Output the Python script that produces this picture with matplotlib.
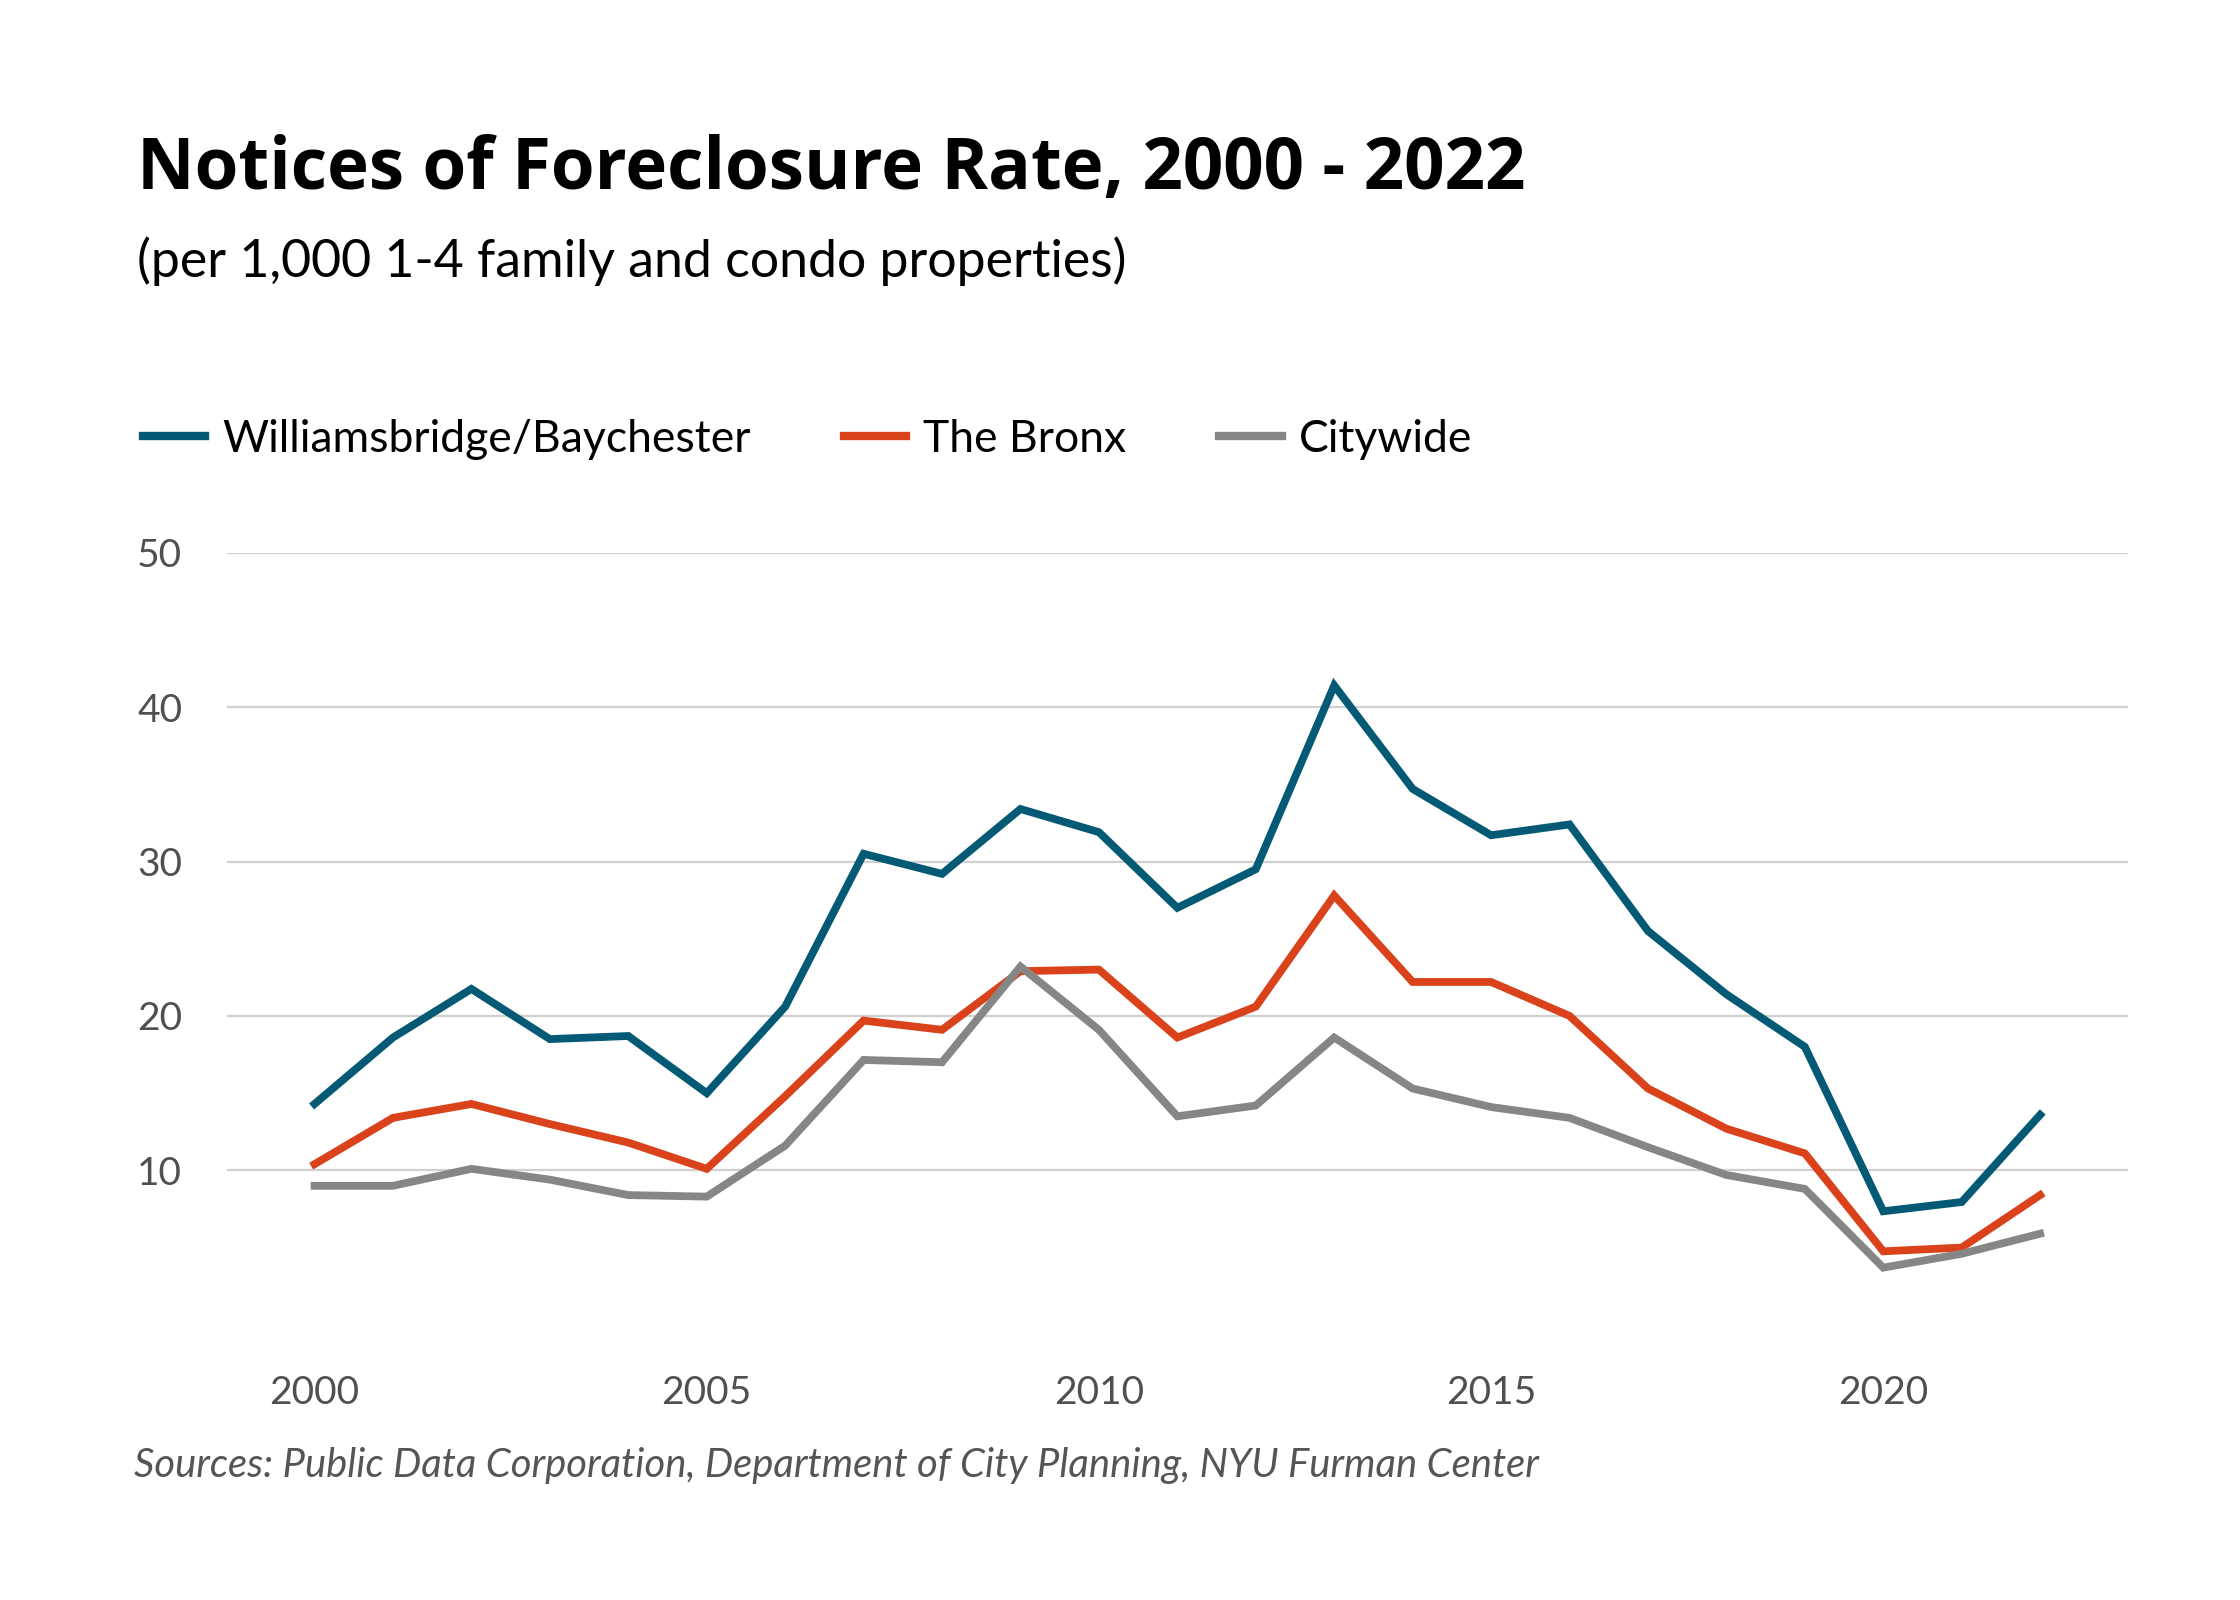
import matplotlib
matplotlib.use("Agg")
import matplotlib.pyplot as plt

years = list(range(2000, 2023))
williamsbridge = [14.3, 18.6, 21.75, 18.5, 18.7, 15.0, 20.6, 30.5, 29.2, 33.4, 31.9, 27.0,
                  29.5, 41.4, 34.7, 31.7, 32.4, 25.5, 21.4, 18.0, 7.35, 7.95, 13.6]
bronx = [10.4, 13.4, 14.3, 13.0, 11.8, 10.1, 14.8, 19.7, 19.1, 22.9, 23.0, 18.6,
         20.6, 27.8, 22.2, 22.2, 20.0, 15.3, 12.7, 11.1, 4.76, 5.0, 8.4]
citywide = [9.0, 9.0, 10.1, 9.4, 8.4, 8.3, 11.6, 17.15, 17.0, 23.2, 19.1, 13.5,
            14.2, 18.6, 15.3, 14.1, 13.4, 11.5, 9.7, 8.8, 3.7, 4.6, 5.9]
series_names = ["Williamsbridge/Baychester", "The Bronx", "Citywide"]
series_colors = ["#045a74", "#d9421a", "#868686"]
y_ticks = [10, 20, 30, 40, 50]
x_ticks = [2000, 2005, 2010, 2015, 2020]

title = "Notices of Foreclosure Rate, 2000 - 2022"
subtitle = "(per 1,000 1-4 family and condo properties)"
source = "Sources: Public Data Corporation, Department of City Planning, NYU Furman Center"

plt.rcParams['font.family'] = ['Lato', 'DejaVu Sans']

fig = plt.figure(figsize=(11.2, 8), dpi=200)
ax = fig.add_axes([0.1012, 0.172, 0.8488, 0.4826])

for vals, name, col in zip([williamsbridge, bronx, citywide], series_names, series_colors):
    ax.plot(years, vals, color=col, lw=2.8, label=name, solid_joinstyle='miter')

ax.set_xlim(1998.88, 2023.12)
ax.set_ylim(0, 50)
ax.set_yticks(y_ticks)
ax.set_xticks(x_ticks)
ax.set_yticklabels([str(v) for v in y_ticks])
ax.set_xticklabels([str(v) for v in x_ticks])
for s in ax.spines.values():
    s.set_visible(False)
ax.grid(axis='y', color='#d0d0d0', lw=0.8)
ax.set_axisbelow(True)
ax.tick_params(axis='both', length=0, labelsize=14, labelcolor='#505050')
ax.tick_params(axis='y', pad=16)
ax.tick_params(axis='x', pad=18)

fig.text(0.061, 0.882, title, fontsize=25.5, fontweight='bold', color='black', va='baseline',
         family=['Open Sans', 'DejaVu Sans'])
fig.text(0.061, 0.827, subtitle, fontsize=18.7, color='black', va='baseline')
fig.text(0.06, 0.077, source, fontsize=14.4, fontstyle='italic',
         color='#555555', va='baseline')

handles, labels = ax.get_legend_handles_labels()
leg = fig.legend(handles, labels, loc='center left', bbox_to_anchor=(0.0638, 0.7256),
                 ncol=3, frameon=False, fontsize=16, handlelength=1.4, handletextpad=0.38,
                 columnspacing=2.1, borderpad=0, borderaxespad=0)
for line in leg.get_lines():
    line.set_linewidth(3.0)

fig.savefig("out.png", dpi=200, facecolor='white')
